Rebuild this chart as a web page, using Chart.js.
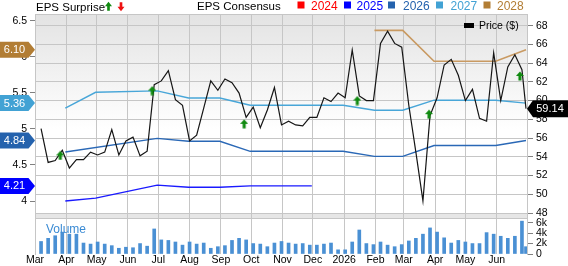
<!DOCTYPE html>
<html>
<head>
<meta charset="utf-8">
<script src="https://cdn.jsdelivr.net/npm/chart.js@4.4.1/dist/chart.umd.min.js"></script>
<style>
  html, body { margin: 0; padding: 0; background: #fff; }
  #wrap { width: 568px; height: 266px; }
</style>
</head>
<body>
<div id="wrap"><canvas id="epsChart" width="568" height="266"></canvas></div>
<script>
// x axis: month gridlines and their labels
const axisStart = '2025-03-01';
const axisEnd = '2026-07-01';
const monthStarts = ['2025-03-01', '2025-04-01', '2025-05-01', '2025-06-01', '2025-07-01', '2025-08-01',
    '2025-09-01', '2025-10-01', '2025-11-01', '2025-12-01', '2026-01-01', '2026-02-01',
    '2026-03-01', '2026-04-01', '2026-05-01', '2026-06-01'];
const monthLabels = ['Mar', 'Apr', 'May', 'Jun', 'Jul', 'Aug', 'Sep', 'Oct', 'Nov', 'Dec', '2026', 'Feb',
    'Mar', 'Apr', 'May', 'Jun'];

// weekly closes (Fridays from firstWeek), the last value is the latest close on lastDate
const firstWeek = '2025-03-07';
const lastDate = '2026-06-30';
const priceValues = [57.0, 53.4, 53.6, 54.7, 52.8, 53.7, 53.7, 54.5, 54.2, 54.5,
    56.9, 54.2, 55.7, 56.1, 54.1, 54.6, 61.7, 62.1, 63.2, 60.1,
    59.5, 55.7, 56.3, 59.2, 62.1, 61.1, 62.3, 61.9, 60.8, 58.2,
    59.3, 57.1, 59.0, 61.4, 57.4, 57.8, 57.4, 57.3, 58.2, 58.2,
    60.3, 59.9, 60.8, 60.3, 65.4, 60.5, 60.0, 60.0, 66.1, 67.4,
    66.1, 65.7, 59.5, 54.5, 49.3, 58.4, 60.3, 63.8, 64.4, 62.7,
    60.0, 61.2, 58.1, 57.8, 65.1, 60.0, 63.6, 64.9, 63.3, 59.14];
const volumeValues = [2400, 3000, 3500, 4200, 3800, 3800, 2100, 1900, 2300, 1900,
    1600, 1100, 1300, 1200, 2000, 1500, 4800, 2700, 2600, 2300,
    1700, 2300, 1900, 2100, 1100, 1400, 1600, 2600, 3000, 2700,
    2000, 1900, 1400, 2100, 2400, 2100, 1900, 2000, 1700, 1700,
    1900, 2100, 800, 800, 2300, 4600, 2000, 1800, 2300, 1700,
    1400, 1800, 2500, 3000, 3800, 5000, 4200, 3100, 2100, 2600,
    2300, 2000, 2000, 4100, 3800, 3400, 3000, 3400, 6300, 1400];

// consensus EPS per fiscal year
const eps2025Dates = ['2025-03-31', '2025-04-30', '2025-06-30', '2025-07-31', '2025-08-31', '2025-09-30', '2025-11-30'];
const eps2025 = [4.00, 4.04, 4.22, 4.19, 4.19, 4.21, 4.21];
const eps2026Dates = ['2025-03-31', '2025-06-30', '2025-07-31', '2025-08-31', '2025-09-30', '2025-12-31',
    '2026-01-31', '2026-02-28', '2026-03-31', '2026-05-31', '2026-06-30'];
const eps2026 = [4.68, 4.87, 4.83, 4.83, 4.69, 4.69, 4.62, 4.62, 4.77, 4.77, 4.84];
const eps2027Dates = ['2025-03-31', '2025-04-30', '2025-06-30', '2025-07-31', '2025-08-31', '2025-09-30',
    '2025-12-31', '2026-01-31', '2026-02-28', '2026-03-31', '2026-05-31', '2026-06-30'];
const eps2027 = [5.29, 5.51, 5.53, 5.43, 5.43, 5.33, 5.33, 5.26, 5.26, 5.40, 5.40, 5.36];
const eps2028Dates = ['2026-01-31', '2026-02-28', '2026-03-31', '2026-05-31', '2026-06-30'];
const eps2028 = [6.37, 6.37, 5.94, 5.94, 6.10];

// EPS surprise markers (all beats), placed at the price level shown
const surpriseDates = ['2025-03-26', '2025-06-25', '2025-09-24', '2026-01-14', '2026-03-26', '2026-06-24'];
const surpriseLevels = [54.15, 61.06, 57.52, 60.0, 58.55, 62.63];

// tick labels
const epsTicks = [4, 4.5, 5, 5.5, 6, 6.5];
const priceTicks = [48, 50, 52, 54, 56, 58, 60, 62, 64, 66, 68];
const volumeTicks = [0, 2000, 4000, 6000];

const legendYears = ['2024', '2025', '2026', '2027', '2028'];
const yearColors = ['#ff0000', '#0000ff', '#2462ad', '#42a2d4', '#b27d34'];

const fontFamily = "'Liberation Sans', Arial, sans-serif";
const gridColor = '#c6c6c6';

function dayOf(s) {
    return (Date.parse(s) - Date.parse(axisStart)) / 86400000;
}

const weekDays = priceValues.map((v, i) =>
    i < priceValues.length - 1 ? dayOf(firstWeek) + 7 * i : dayOf(lastDate));

function toPoints(dates, values) {
    return values.map((v, i) => ({ x: dayOf(dates[i]), y: v }));
}

function drawArrow(ctx, cx, cy, w, h, up, color) {
    const d = up ? 1 : -1;
    const headH = h * 0.5;
    const shaft = w * 0.38;
    ctx.save();
    ctx.fillStyle = color;
    ctx.beginPath();
    ctx.moveTo(cx, cy - d * h / 2);
    ctx.lineTo(cx + w / 2, cy - d * h / 2 + d * headH);
    ctx.lineTo(cx + shaft / 2, cy - d * h / 2 + d * headH);
    ctx.lineTo(cx + shaft / 2, cy + d * h / 2);
    ctx.lineTo(cx - shaft / 2, cy + d * h / 2);
    ctx.lineTo(cx - shaft / 2, cy - d * h / 2 + d * headH);
    ctx.lineTo(cx - w / 2, cy - d * h / 2 + d * headH);
    ctx.closePath();
    ctx.fill();
    ctx.restore();
}

// marker image for the surprise dataset
const arrowImg = document.createElement('canvas');
arrowImg.width = 8;
arrowImg.height = 10;
drawArrow(arrowImg.getContext('2d'), 4, 5, 8, 9, true, '#108a10');

const decorations = {
    id: 'decorations',
    beforeDraw(chart) {
        const ctx = chart.ctx;
        const a = chart.chartArea;
        const py = chart.scales.yPrice;
        ctx.save();
        ctx.fillStyle = '#ffffff';
        ctx.fillRect(0, 0, chart.width, chart.height);
        const g = ctx.createLinearGradient(0, a.top, 0, a.top + 115);
        g.addColorStop(0, '#e3e3e3');
        g.addColorStop(1, '#ffffff');
        ctx.fillStyle = g;
        ctx.fillRect(a.left, a.top, a.right - a.left, py.bottom - a.top);
        const y48 = py.getPixelForValue(priceTicks[0]);
        ctx.fillStyle = '#e6e6e6';
        ctx.fillRect(a.left, y48, a.right - a.left, py.bottom - y48);
        ctx.restore();
    },
    afterDraw(chart) {
        const ctx = chart.ctx;
        const a = chart.chartArea;
        const py = chart.scales.yPrice;
        const ye = chart.scales.yEps;
        ctx.save();

        // frame lines
        ctx.strokeStyle = gridColor;
        ctx.lineWidth = 1;
        ctx.beginPath();
        ctx.moveTo(a.left, Math.round(a.top) + 0.5);
        ctx.lineTo(a.right, Math.round(a.top) + 0.5);
        ctx.moveTo(a.left, Math.round(py.bottom) + 0.5);
        ctx.lineTo(a.right, Math.round(py.bottom) + 0.5);
        ctx.stroke();

        // title row
        ctx.textBaseline = 'alphabetic';
        ctx.textAlign = 'left';
        ctx.font = '11.5px ' + fontFamily;
        ctx.fillStyle = '#000';
        ctx.fillText('EPS Surprise', 36, 10.5);
        drawArrow(ctx, 108.5, 6.3, 7, 9, true, '#108a10');
        drawArrow(ctx, 121, 6.8, 7, 9, false, '#ee1111');
        ctx.fillText('EPS Consensus', 197, 9.5);
        ctx.font = '12px ' + fontFamily;
        const sqX = [297.5, 344, 388, 436, 483.5];
        const txX = [311, 356.5, 403, 450.5, 497];
        legendYears.forEach((yr, i) => {
            ctx.fillStyle = yearColors[i];
            ctx.fillRect(sqX[i], 1.5, 7, 7);
            ctx.fillText(yr, txX[i], 9.5);
        });

        // price legend
        ctx.fillStyle = '#000';
        ctx.fillRect(464, 23, 10, 5);
        ctx.font = '10.5px ' + fontFamily;
        ctx.fillText('Price ($)', 479, 29);

        // volume caption
        ctx.fillStyle = '#3b8bd4';
        ctx.font = '12px ' + fontFamily;
        ctx.fillText('Volume', 46, 233);

        // consensus value tags on the left
        const tags = [[eps2028, yearColors[4]], [eps2027, yearColors[3]], [eps2026, yearColors[2]], [eps2025, yearColors[1]]];
        ctx.font = '11px ' + fontFamily;
        ctx.textAlign = 'center';
        ctx.textBaseline = 'middle';
        tags.forEach(([vals, col]) => {
            const v = vals[vals.length - 1];
            const cy = ye.getPixelForValue(v);
            ctx.fillStyle = col;
            ctx.beginPath();
            ctx.moveTo(0, cy - 8);
            ctx.lineTo(28.5, cy - 8);
            ctx.lineTo(35, cy);
            ctx.lineTo(28.5, cy + 8);
            ctx.lineTo(0, cy + 8);
            ctx.closePath();
            ctx.fill();
            ctx.fillStyle = '#fff';
            ctx.fillText(v.toFixed(2), 14.5, cy + 0.5);
        });

        // last price tag on the right
        const last = priceValues[priceValues.length - 1];
        const cy = py.getPixelForValue(last);
        ctx.fillStyle = '#000';
        ctx.beginPath();
        ctx.moveTo(a.right, cy);
        ctx.lineTo(a.right + 6, cy - 8.5);
        ctx.lineTo(chart.width, cy - 8.5);
        ctx.lineTo(chart.width, cy + 8.5);
        ctx.lineTo(a.right + 6, cy + 8.5);
        ctx.closePath();
        ctx.fill();
        ctx.fillStyle = '#fff';
        ctx.fillText(last.toFixed(2), 550, cy + 0.5);
        ctx.restore();
    }
};

const tickFont = { family: fontFamily, size: 10.5 };

new Chart(document.getElementById('epsChart'), {
    type: 'line',
    data: {
        datasets: [
            {
                type: 'scatter',
                data: toPoints(surpriseDates, surpriseLevels),
                yAxisID: 'yPrice',
                pointStyle: arrowImg,
                pointRadius: 5,
                showLine: false,
                order: 0
            },
            {
                data: priceValues.map((v, i) => ({ x: weekDays[i], y: v })),
                yAxisID: 'yPrice',
                borderColor: '#151515',
                borderWidth: 1.2,
                pointRadius: 0,
                tension: 0,
                order: 1
            },
            {
                data: toPoints(eps2025Dates, eps2025),
                yAxisID: 'yEps',
                borderColor: '#1a1aff',
                borderWidth: 1.4,
                pointRadius: 0,
                order: 2
            },
            {
                data: toPoints(eps2026Dates, eps2026),
                yAxisID: 'yEps',
                borderColor: '#2a68b6',
                borderWidth: 1.4,
                pointRadius: 0,
                order: 2
            },
            {
                data: toPoints(eps2027Dates, eps2027),
                yAxisID: 'yEps',
                borderColor: '#48a6d8',
                borderWidth: 1.4,
                pointRadius: 0,
                order: 2
            },
            {
                data: toPoints(eps2028Dates, eps2028),
                yAxisID: 'yEps',
                borderColor: '#c99a62',
                borderWidth: 1.6,
                pointRadius: 0,
                order: 2
            },
            {
                type: 'bar',
                data: volumeValues.map((v, i) => ({ x: weekDays[i], y: v })),
                yAxisID: 'yVol',
                backgroundColor: '#4a90d4',
                barThickness: 3,
                order: 3
            }
        ]
    },
    options: {
        responsive: false,
        animation: false,
        events: [],
        layout: { padding: { top: 14, left: 0, right: 0, bottom: 0 } },
        plugins: {
            legend: { display: false },
            tooltip: { enabled: false }
        },
        scales: {
            x: {
                type: 'linear',
                min: 0,
                max: dayOf(axisEnd),
                offset: false,
                afterBuildTicks: axis => { axis.ticks = monthStarts.map(d => ({ value: dayOf(d) })); },
                afterFit: axis => { axis.height = 12; },
                grid: { color: gridColor, drawTicks: false, offset: false },
                border: { display: false },
                ticks: {
                    autoSkip: false,
                    maxRotation: 0,
                    padding: 0,
                    color: '#000',
                    font: tickFont,
                    callback: (v, i) => monthLabels[i]
                }
            },
            yEps: {
                position: 'left',
                min: 3.264,
                max: 6.597,
                afterBuildTicks: axis => { axis.ticks = epsTicks.map(v => ({ value: v })); },
                afterFit: axis => { axis.width = 35; },
                grid: { drawOnChartArea: false, tickLength: 5, tickColor: '#808080' },
                border: { color: gridColor },
                ticks: { autoSkip: false, padding: 3, color: '#000', font: tickFont, callback: v => String(v) }
            },
            yPrice: {
                position: 'right',
                stack: 'right',
                stackWeight: 204,
                min: 47.47,
                max: 69.24,
                afterBuildTicks: axis => { axis.ticks = priceTicks.map(v => ({ value: v })); },
                afterFit: axis => { axis.width = 41; },
                grid: { color: gridColor, tickLength: 6, tickColor: '#808080' },
                border: { color: gridColor },
                ticks: { autoSkip: false, padding: 3, color: '#000', font: tickFont, callback: v => String(v) }
            },
            yVol: {
                position: 'right',
                stack: 'right',
                stackWeight: 36,
                min: 0,
                max: 6900,
                afterBuildTicks: axis => { axis.ticks = volumeTicks.map(v => ({ value: v })); },
                afterFit: axis => { axis.width = 41; },
                grid: { drawOnChartArea: false, tickLength: 6, tickColor: '#808080' },
                border: { color: gridColor },
                ticks: {
                    autoSkip: false,
                    padding: 3,
                    color: '#000',
                    font: tickFont,
                    callback: v => (v === 0 ? '0' : v / 1000 + 'k')
                }
            }
        }
    },
    plugins: [decorations]
});
</script>
</body>
</html>
